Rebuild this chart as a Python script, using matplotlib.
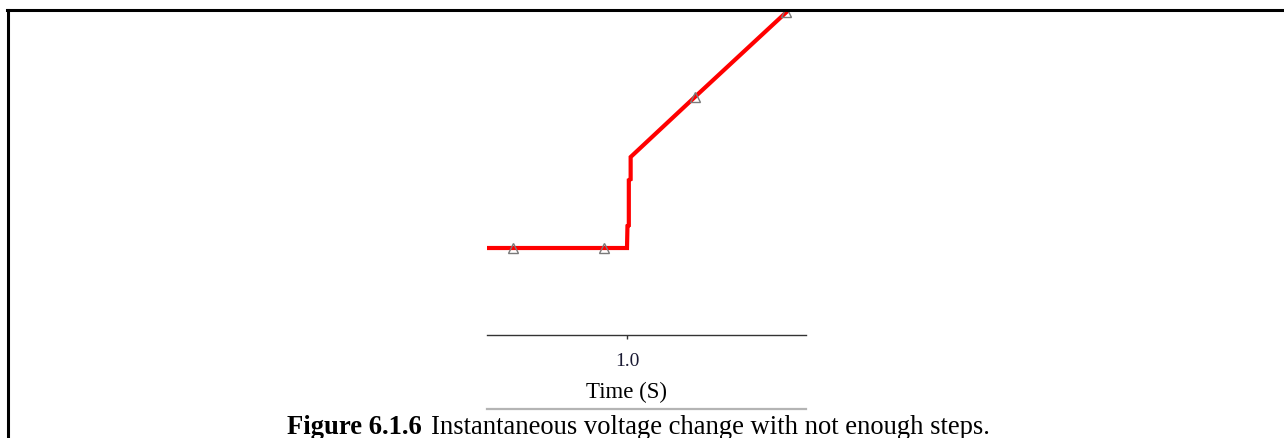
import matplotlib
matplotlib.use('Agg')
import matplotlib.pyplot as plt
from matplotlib.lines import Line2D

# voltage trace (time in s, voltage in arbitrary units)
time = [0.6923, 1.000, 1.001, 1.004, 1.004, 1.008, 1.008, 1.15, 1.35]
volts = [1.0, 1.0, 1.253, 1.26, 1.78, 1.79, 2.046, 2.74, 3.71]

# solver step markers
step_time = [0.75, 0.95, 1.15, 1.35]
step_volts = [1.0, 1.0, 2.74, 3.71]

xticks = [1.0]
xtick_labels = ['1.0']
caption_bold = 'Figure 6.1.6'
caption_text = 'Instantaneous voltage change with not enough steps.'

plt.rcParams['font.family'] = ['Liberation Serif', 'DejaVu Serif']

W, H = 1284, 438
fig = plt.figure(figsize=(W / 100, H / 100), dpi=100)
ax = fig.add_axes([487 / W, 1 - 335 / H, (806 - 487) / W, (335 - 10) / H])

ax.plot(time, volts, color='#ff0000', lw=3, solid_joinstyle='miter', zorder=2)
ax.plot(step_time, step_volts, ls='none', marker='^', ms=7, mfc='none',
        mec='#7a7a7a', mew=1, zorder=3)

ax.set_xlim(0.6923, 1.3934)
ax.set_ylim(0, 3.736)
for s in ['top', 'left', 'right']:
    ax.spines[s].set_visible(False)
ax.spines['bottom'].set_color('#333333')
ax.spines['bottom'].set_linewidth(1)
ax.set_yticks([])
ax.set_xticks(xticks)
ax.set_xticklabels(xtick_labels)
ax.tick_params(axis='x', length=3, width=1, color='#333333', pad=10,
               labelsize=14, labelcolor='#1a1a33')

# axis label centred under the tick
fig.text(626 / W, 1 - 392 / H, 'Time (S)', fontsize=16.5, ha='center', va='center')

# frame lines of the page
fig.add_artist(Line2D([7 / W, 1], [1 - 10 / H, 1 - 10 / H], color='black', lw=2.2))
fig.add_artist(Line2D([8 / W, 8 / W], [0, 1 - 10 / H], color='black', lw=2.2))
# gray rule under axis label
fig.add_artist(Line2D([487 / W, 806 / W], [1 - 409 / H, 1 - 409 / H], color='#b4b4b4', lw=1.6))

t1 = fig.text(287 / W, 1 - 428 / H, caption_bold, fontsize=19.2, fontweight='bold', va='center')
fig.add_artist(plt.Annotation(caption_text, xy=(1, 0.5), xycoords=t1, xytext=(7, 0),
                              textcoords='offset points', va='center', fontsize=19.2))

fig.savefig('out.png', dpi=100)
